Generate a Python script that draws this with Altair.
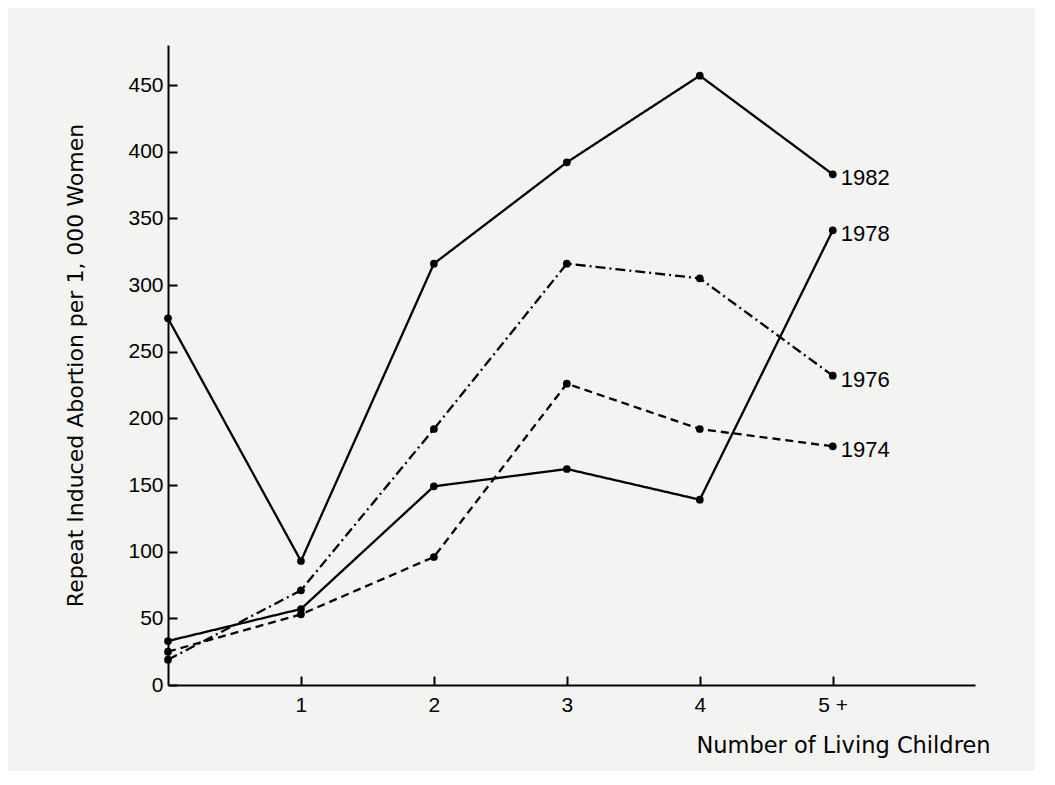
import altair as alt
import pandas as pd

# ---- data ----
children = [0, 1, 2, 3, 4, 5]
years = ["1982", "1978", "1976", "1974"]
rate_1982 = [275, 93, 316, 392, 457, 383]
rate_1978 = [33, 57, 149, 162, 139, 341]
rate_1976 = [19, 71, 192, 316, 305, 232]
rate_1974 = [25, 53, 96, 226, 192, 179]
x_tick_values = [1, 2, 3, 4, 5]
y_tick_values = [0, 50, 100, 150, 200, 250, 300, 350, 400, 450]

series = {"1982": rate_1982, "1978": rate_1978, "1976": rate_1976, "1974": rate_1974}
rows = []
for yr in years:
    for c, v in zip(children, series[yr]):
        rows.append({"children": c, "rate": v, "year": yr})
df = pd.DataFrame(rows)

FONT = "Liberation Sans"
TFONT = "DejaVu Sans"

x_scale = alt.Scale(domain=[0, 6.07], nice=False, zero=False)
y_scale = alt.Scale(domain=[0, 480], nice=False)

x_axis = alt.Axis(
    values=x_tick_values,
    format="d",
    labelExpr="datum.value == 5 ? '5 +' : datum.label",
    ticks=True,
    tickSize=alt.ExprRef("-9"),
    tickWidth=2,
    tickColor="black",
    grid=False,
    labelPadding=18,
    title="Number of Living Children",
    titleFontSize=22.5,
    titleAlign="right",
    titleX=822,
    titleY=60,
    titleBaseline="middle",
)
y_axis = alt.Axis(
    values=y_tick_values,
    format="d",
    ticks=True,
    tickSize=alt.ExprRef("-9"),
    tickWidth=2,
    tickColor="black",
    grid=False,
    labelPadding=14,
    title="Repeat Induced Abortion per 1, 000  Women",
    titleFontSize=22,
    titleAngle=-90,
    titleX=-93,
    titleY=320,
    titleAlign="center",
    titleBaseline="middle",
)

X = alt.X("children:Q", scale=x_scale, axis=x_axis)
Y = alt.Y("rate:Q", scale=y_scale, axis=y_axis)

dash = alt.StrokeDash(
    "year:N",
    scale=alt.Scale(domain=years, range=[[1, 0], [1, 0], [10, 4, 2, 4], [8, 5]]),
    legend=None,
)

base = alt.Chart(df)

lines = base.mark_line(color="black", strokeWidth=2.3).encode(
    x=X, y=Y, strokeDash=dash, detail="year:N"
)
points = base.mark_circle(color="black", size=60, opacity=1).encode(x=X, y=Y)
labels = base.transform_filter("datum.children == 5").mark_text(
    align="left", baseline="middle", dx=8, dy=4, font=FONT, fontSize=22, color="black"
).encode(x=X, y=Y, text="year:N")

chart = (
    alt.layer(lines, points, labels)
    .properties(
        width=807,
        height=640,
        padding={"left": 160, "top": 37, "right": 60, "bottom": 86},
        autosize=alt.AutoSizeParams(type="none"),
        background="#f3f3f1",
    )
    .configure_view(stroke=None)
    .configure_axis(
        domainColor="black",
        domainWidth=2,
        labelFont=FONT,
        labelFontSize=21,
        labelColor="black",
        titleFont=TFONT,
        titleFontWeight="normal",
        titleColor="black",
    )
)

chart.save("out.html", embed_options={"renderer": "svg", "actions": False})
